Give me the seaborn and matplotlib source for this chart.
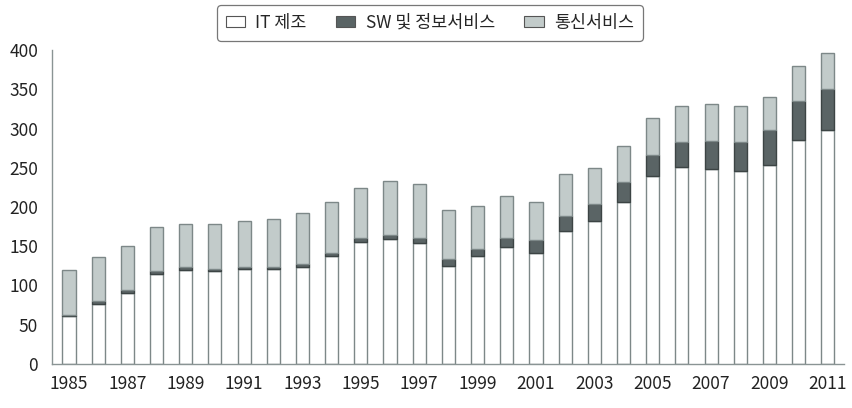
import matplotlib
matplotlib.use("Agg")
import matplotlib.pyplot as plt
import seaborn as sns
import pandas as pd
import numpy as np
from matplotlib.patches import Patch

years = [str(y) for y in range(1985, 2012)]
it_manuf = [61, 77, 91, 115, 120, 118, 121, 121, 124, 138, 156, 159, 154, 125, 137, 149, 141, 169, 182, 207, 239, 251, 249, 246, 253, 286, 298]
sw_info = [2, 3, 3, 4, 3, 2.5, 3, 3, 4, 4, 4, 5, 7, 9, 9, 12, 17, 19, 22, 25, 27, 32, 35, 37, 45, 49, 53]
totals = [120, 136, 150, 174, 178, 179, 182, 185, 193, 207, 224, 233, 230, 196, 201, 214, 207, 242, 250, 278, 313, 329, 331, 329, 340, 380, 397]
telecom = [t - a - b for t, a, b in zip(totals, it_manuf, sw_info)]
labels = ["IT 제조", "SW 및 정보서비스", "통신서비스"]
yticks = [0, 50, 100, 150, 200, 250, 300, 350, 400]

df = pd.DataFrame({"year": years, "it": it_manuf, "sw": sw_info, "tel": telecom})
df["b2"] = df["it"] + df["sw"]

sns.set_theme(style="white")
plt.rcParams["font.family"] = ["Noto Sans CJK KR", "DejaVu Sans"]

c_white = "#ffffff"
c_dark = "#5a6465"
c_light = "#c2cbca"
edge = "#7d8888"
spine_c = "#8a9494"

fig = plt.figure(figsize=(8.53, 4.08), dpi=100)
ax = fig.add_axes([0.061, 0.108, 0.928, 0.769])

w = 0.45
sns.barplot(data=df, x="year", y="it", color=c_white, width=w, saturation=1,
            edgecolor=edge, linewidth=1.0, ax=ax)
sns.barplot(data=df, x="year", y="sw", bottom=df["it"], color=c_dark, width=w, saturation=1,
            edgecolor="#3c4444", linewidth=1.0, ax=ax)
sns.barplot(data=df, x="year", y="tel", bottom=df["b2"], color=c_light, width=w, saturation=1,
            edgecolor=edge, linewidth=1.0, ax=ax)

ax.set_xlim(-0.58, 26.54)
ax.set_ylim(0, 400)
ax.set_yticks(yticks)
ax.set_yticklabels([str(v) for v in yticks], fontsize=12.5, color="#222222")
ax.set_xticks(range(0, 27, 2))
ax.set_xticklabels(years[::2], fontsize=12.5, color="#222222")
ax.set_xticks(np.arange(-0.5, 27, 1.0), minor=True)
ax.tick_params(axis="x", which="major", length=0, pad=8)
ax.tick_params(axis="x", which="minor", length=7, width=1, color=spine_c, direction="out")
ax.tick_params(axis="y", which="major", length=7, width=1, color=spine_c, direction="out", pad=3)
ax.set_xlabel("")
ax.set_ylabel("")
for s in ["top", "right"]:
    ax.spines[s].set_visible(False)
for s in ["left", "bottom"]:
    ax.spines[s].set_color(spine_c)
    ax.spines[s].set_linewidth(1)
ax.grid(False)

handles = [Patch(facecolor=c_white, edgecolor="#555555", linewidth=0.8),
           Patch(facecolor=c_dark, edgecolor="#555555", linewidth=0.8),
           Patch(facecolor=c_light, edgecolor="#555555", linewidth=0.8)]
leg = fig.legend(handles, labels, ncol=3, loc="center", bbox_to_anchor=(0.504, 0.944),
                 fontsize=12.5, frameon=True, fancybox=True, handlelength=1.1, handleheight=0.6,
                 columnspacing=1.7, handletextpad=0.6, borderpad=0.5, borderaxespad=0)
leg.get_frame().set_edgecolor("#555555")
leg.get_frame().set_linewidth(0.9)

fig.savefig("out.png", dpi=100)
